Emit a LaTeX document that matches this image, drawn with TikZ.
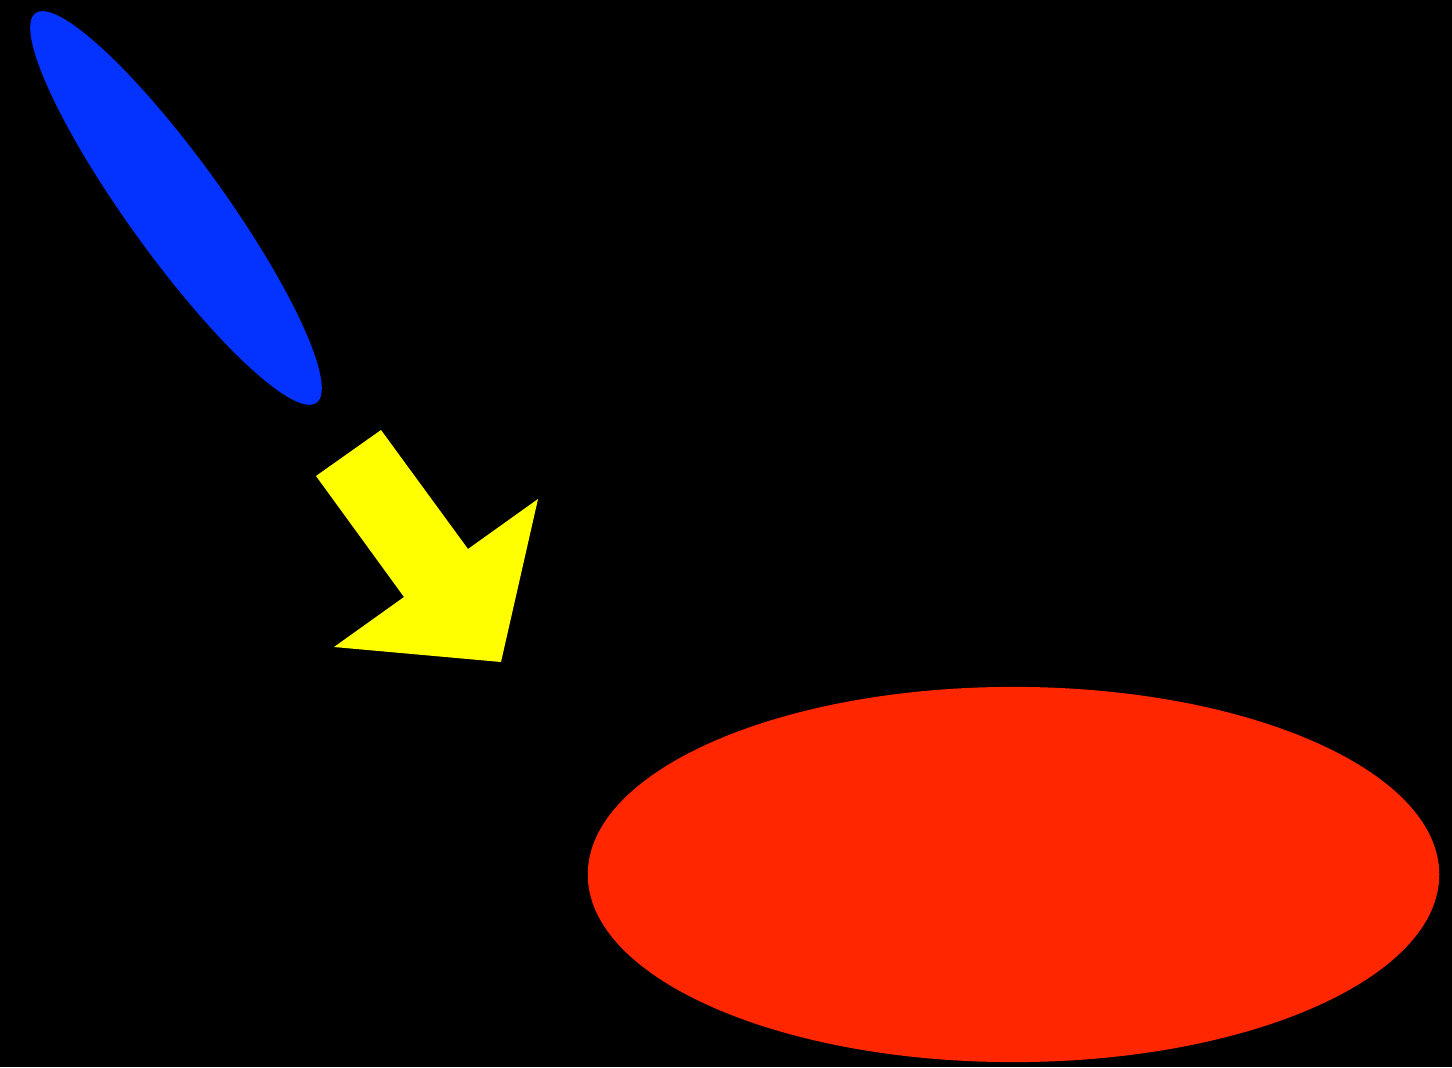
\documentclass[tikz,border=0pt]{standalone}
\definecolor{shapeblue}{RGB}{4,51,255}
\definecolor{shapered}{RGB}{255,38,0}
\definecolor{shapeyellow}{RGB}{255,255,0}
\begin{document}
\begin{tikzpicture}[x=0.01cm,y=-0.01cm]
\fill[black] (0,0) rectangle (1452,1067);
\useasboundingbox (0,0) rectangle (1452,1067);
\begin{scope}[shift={(176,208)},rotate=-54.2]
\fill[shapeblue] (0,0) ellipse [x radius=2.40cm, y radius=0.48cm];
\end{scope}
\fill[shapeyellow] (316,476) -- (381,430) -- (468,549) -- (538,499) -- (501,662) -- (334,647) -- (404,597) -- cycle;
\fill[shapered] (1013.5,874.5) ellipse [x radius=4.255cm, y radius=1.875cm];
\end{tikzpicture}
\end{document}
